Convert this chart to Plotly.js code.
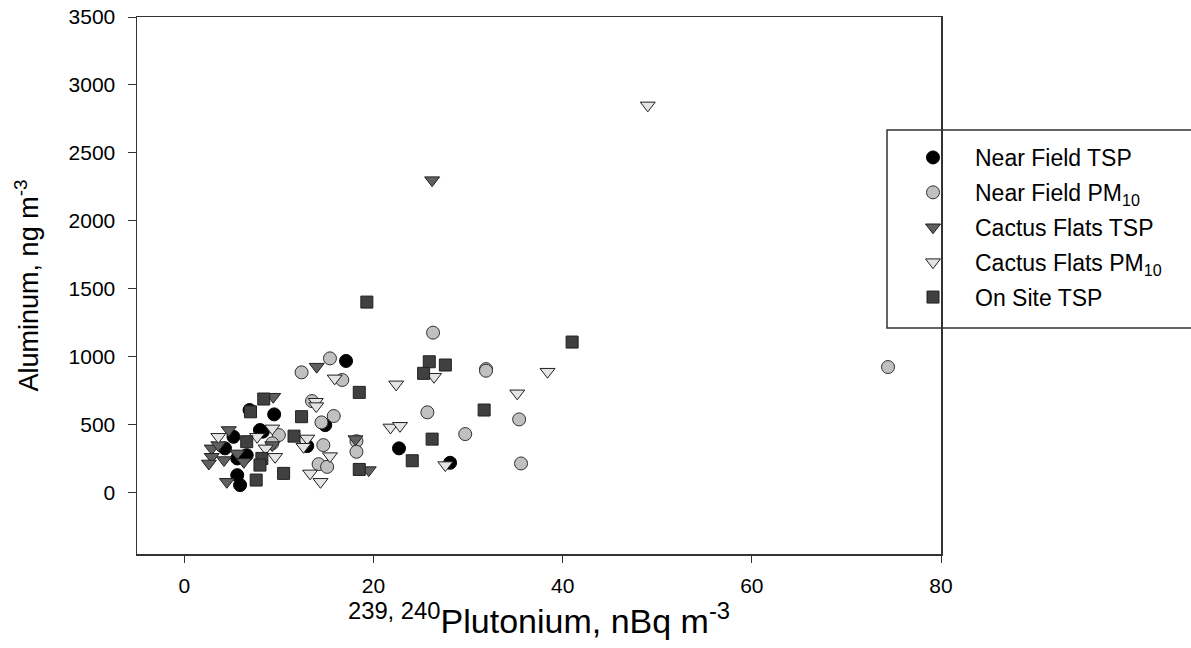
<!DOCTYPE html>
<html>
<head>
<meta charset="utf-8">
<script src="https://cdn.plot.ly/plotly-3.0.1.min.js"></script>
<style>html,body{margin:0;padding:0;background:#fff;}#chart{width:1191px;height:648px;}</style>
</head>
<body>
<div id="chart"></div>
<script>
// Near Field TSP
const nfTspX = [17.1, 14.9, 13.0, 22.7, 28.1, 6.9, 9.5, 8.0, 5.2, 4.3, 5.6, 6.6, 5.6, 5.9, 8.3];
const nfTspY = [970, 498, 344, 327, 221, 609, 577, 462, 412, 327, 253, 277, 130, 57, 450];
// Near Field PM10
const nfPmX = [26.3, 15.4, 12.4, 16.7, 13.5, 25.7, 15.8, 14.5, 18.2, 14.7, 18.2, 14.2, 15.1, 31.9, 31.9, 35.4, 29.7, 35.6, 74.4, 10.0, 9.3];
const nfPmY = [1178, 989, 886, 830, 675, 592, 565, 518, 380, 351, 302, 211, 191, 910, 898, 540, 432, 216, 925, 425, 364];
// Cactus Flats TSP
const cfTspX = [26.2, 14.0, 9.4, 18.1, 19.5, 4.7, 9.3, 2.9, 5.6, 4.2, 2.9, 2.6, 6.3, 4.5, 3.6];
const cfTspY = [2300, 928, 707, 395, 167, 462, 351, 327, 290, 241, 265, 216, 228, 81, 351];
// Cactus Flats PM10
const cfPmX = [49.0, 15.9, 22.4, 26.4, 13.9, 13.95, 21.8, 22.8, 12.6, 13.0, 12.6, 15.4, 13.3, 14.4, 27.6, 38.4, 35.2, 9.3, 3.6, 7.7, 8.6, 9.6];
const cfPmY = [2850, 842, 798, 854, 670, 638, 481, 493, 388, 400, 339, 270, 143, 81, 204, 891, 732, 474, 412, 412, 327, 265];
// On Site TSP
const osX = [19.3, 25.9, 27.6, 25.3, 18.5, 12.4, 11.6, 26.2, 24.1, 18.5, 41.0, 31.7, 8.4, 7.0, 6.6, 8.2, 8.0, 10.5, 7.6];
const osY = [1403, 964, 940, 879, 739, 560, 417, 395, 236, 172, 1109, 609, 690, 596, 376, 253, 204, 143, 94];

const names = ['Near Field TSP', 'Near Field PM<sub>10</sub>', 'Cactus Flats TSP', 'Cactus Flats PM<sub>10</sub>', 'On Site TSP'];

function tr(x, y, name, symbol, fill, line, size, g) {
  return {x: x, y: y, name: name, type: 'scatter', mode: 'markers', legendgroup: g,
    marker: {symbol: symbol, size: size, color: fill, line: {color: line, width: 1}}};
}
const traces = [
  tr(nfTspX, nfTspY, names[0], 'circle', '#000000', '#000000', 13, 'a'),
  tr(nfPmX, nfPmY, names[1], 'circle', '#c0c0c0', '#303030', 13, 'b'),
  tr(cfTspX, cfTspY, names[2], 'triangle-down', '#606060', '#202020', 13, 'c'),
  tr(cfPmX, cfPmY, names[3], 'triangle-down', '#e4e4e4', '#202020', 13, 'd'),
  tr(osX, osY, names[4], 'square', '#404040', '#202020', 12, 'e')
];

const font = 'Arial, "Liberation Sans", sans-serif';
const layout = {
  width: 1191, height: 648,
  margin: {l: 137, r: 250, t: 17, b: 94},
  paper_bgcolor: '#fff', plot_bgcolor: '#fff',
  font: {family: font, color: '#000', size: 21},
  showlegend: true,
  legend: {x: (891 - 137) / 804, y: (554 - 136) / 537, xanchor: 'left', yanchor: 'top', bgcolor: 'rgba(0,0,0,0)',
    borderwidth: 0, font: {family: font, size: 23, color: '#000'}, traceorder: 'grouped', tracegroupgap: 2,
    itemwidth: 74},
  xaxis: {range: [-5, 80], tickvals: [0, 20, 40, 60, 80], ticks: 'outside', ticklen: 7, tickcolor: '#333',
    showline: true, linecolor: '#333', linewidth: 1.5, mirror: true, showgrid: false, zeroline: false,
    ticklabelstandoff: 5,
    tickfont: {size: 21}, title: {text: '<sup>239, 240</sup>Plutonium, nBq m<sup>-3</sup>', font: {size: 34}, standoff: 6}},
  yaxis: {range: [-450, 3500], tickvals: [0, 500, 1000, 1500, 2000, 2500, 3000, 3500], ticks: 'outside', ticklen: 8, tickcolor: '#333',
    showline: true, linecolor: '#333', linewidth: 1.5, mirror: true, showgrid: false, zeroline: false,
    ticklabelstandoff: 8,
    tickfont: {size: 21}, title: {text: 'Aluminum, ng m<sup>-3</sup>', font: {size: 27}, standoff: 22}},
  shapes: [{type: 'rect', xref: 'paper', yref: 'paper', x0: (887 - 137) / 804, x1: (1200 - 137) / 804,
    y0: (554 - 328) / 537, y1: (554 - 130) / 537, line: {color: '#333', width: 1.5}, fillcolor: 'rgba(0,0,0,0)', layer: 'below'}]
};
Plotly.newPlot('chart', traces, layout, {displayModeBar: false, staticPlot: true});
</script>
</body>
</html>
